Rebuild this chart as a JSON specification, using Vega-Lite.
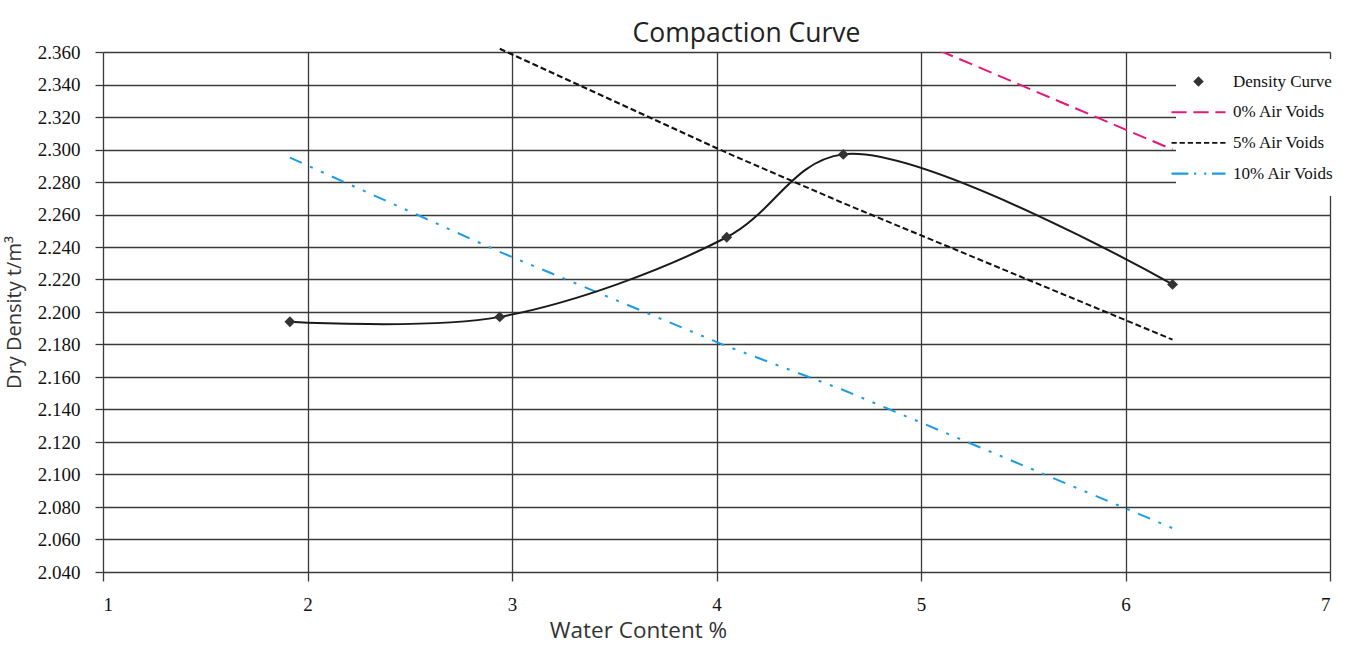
{
  "$schema": "https://vega.github.io/schema/vega-lite/v6.json",
  "width": 1227,
  "height": 520,
  "autosize": {"type": "none"},
  "padding": {"left": 103, "top": 52, "right": 26, "bottom": 76},
  "background": "white",
  "title": {"text": "Compaction Curve", "font": "Open Sans", "fontSize": 26.5, "fontWeight": "normal", "color": "#222222", "offset": -4, "dx": 30},
  "datasets": {
    "density": [
      {"series": "Density Curve", "w": 1.914, "rho": 2.194},
      {"series": "Density Curve", "w": 2.94, "rho": 2.197},
      {"series": "Density Curve", "w": 4.05, "rho": 2.246},
      {"series": "Density Curve", "w": 4.62, "rho": 2.297},
      {"series": "Density Curve", "w": 6.23, "rho": 2.217}
    ],
    "voids": [
      {"series": "0% Air Voids", "w": 4.62, "rho": 2.386},
      {"series": "0% Air Voids", "w": 6.23, "rho": 2.300},
      {"series": "5% Air Voids", "w": 2.94, "rho": 2.362},
      {"series": "5% Air Voids", "w": 4.05, "rho": 2.298},
      {"series": "5% Air Voids", "w": 4.62, "rho": 2.267},
      {"series": "5% Air Voids", "w": 6.23, "rho": 2.183},
      {"series": "10% Air Voids", "w": 1.914, "rho": 2.295},
      {"series": "10% Air Voids", "w": 2.94, "rho": 2.237},
      {"series": "10% Air Voids", "w": 4.05, "rho": 2.179},
      {"series": "10% Air Voids", "w": 4.62, "rho": 2.152},
      {"series": "10% Air Voids", "w": 6.23, "rho": 2.067}
    ]
  },
  "encoding": {
    "x": {
      "field": "w", "type": "quantitative",
      "scale": {"domain": [1, 7], "nice": false, "zero": false},
      "axis": {"values": [1, 2, 3, 4, 5, 6, 7], "title": "Water Content %", "grid": true, "domain": false,
        "tickSize": 9, "labelPadding": 14, "titleFontSize": 22.5, "titlePadding": 5, "titleX": 535}
    },
    "y": {
      "field": "rho", "type": "quantitative",
      "scale": {"domain": [2.04, 2.36], "nice": false, "zero": false},
      "axis": {"values": [2.04, 2.06, 2.08, 2.1, 2.12, 2.14, 2.16, 2.18, 2.2, 2.22, 2.24, 2.26, 2.28, 2.3, 2.32, 2.34, 2.36],
        "format": ".3f", "title": "Dry Density t/m³", "grid": true, "domain": false,
        "tickSize": 8, "labelPadding": 15, "titleFontSize": 20, "titleX": -79, "titleY": 260}
    }
  },
  "layer": [
    {
      "data": {"name": "voids"},
      "transform": [{"filter": {"field": "series", "equal": "0% Air Voids"}}],
      "mark": {"type": "line", "color": "#e5177b", "strokeWidth": 2, "strokeDash": [14, 7], "clip": true}
    },
    {
      "data": {"name": "voids"},
      "transform": [{"filter": {"field": "series", "equal": "5% Air Voids"}}],
      "mark": {"type": "line", "color": "#111111", "strokeWidth": 2, "strokeDash": [6, 3]}
    },
    {
      "data": {"name": "voids"},
      "transform": [{"filter": {"field": "series", "equal": "10% Air Voids"}}],
      "mark": {"type": "line", "color": "#1c9ce3", "strokeWidth": 2, "strokeDash": [13, 9, 3, 9, 3, 9]}
    },
    {
      "data": {"name": "density"},
      "mark": {"type": "line", "color": "#1a1a1a", "strokeWidth": 2, "interpolate": "catmull-rom"}
    },
    {
      "data": {"name": "density"},
      "mark": {"type": "point", "filled": true, "size": 120, "opacity": 1, "strokeWidth": 0},
      "encoding": {
        "color": {
          "field": "series", "type": "nominal",
          "scale": {"domain": ["Density Curve", "0% Air Voids", "5% Air Voids", "10% Air Voids"],
            "range": ["#333333", "#e5177b", "#111111", "#1c9ce3"]},
          "legend": {"title": null, "orient": "none", "legendX": 1073, "legendY": 7, "fillColor": "white", "padding": 14,
            "labelFont": "Liberation Serif", "labelFontSize": 17, "labelColor": "#111111", "labelOffset": 26,
            "rowPadding": 12.7, "symbolSize": 110, "symbolStrokeWidth": 0, "symbolOpacity": 1}
        },
        "shape": {
          "field": "series", "type": "nominal",
          "scale": {"domain": ["Density Curve", "0% Air Voids", "5% Air Voids", "10% Air Voids"],
            "range": [
              "M0,-1L1,0L0,1L-1,0Z",
              "M-5.15,-0.2H-2.27V0.2H-5.15Z M-0.98,-0.2H1.93V0.2H-0.98Z M3.22,-0.2H5.15V0.2H3.22Z",
              "M-5.15,-0.18H-4.15V0.18H-5.15Z M-3.6,-0.18H-2.6V0.18H-3.6Z M-2.05,-0.18H-1.05V0.18H-2.05Z M-0.5,-0.18H0.5V0.18H-0.5Z M1.05,-0.18H2.05V0.18H1.05Z M2.6,-0.18H3.6V0.18H2.6Z M4.15,-0.18H5.15V0.18H4.15Z",
              "M-5.15,-0.2H-1.93V0.2H-5.15Z M-0.84,-0.2H-0.44V0.2H-0.84Z M1.09,-0.2H1.49V0.2H1.09Z M2.58,-0.2H5.15V0.2H2.58Z"
            ]},
          "legend": {"title": null, "orient": "none", "legendX": 1073, "legendY": 7, "fillColor": "white", "padding": 14,
            "labelFont": "Liberation Serif", "labelFontSize": 17, "labelColor": "#111111", "labelOffset": 26,
            "rowPadding": 12.7, "symbolSize": 110, "symbolStrokeWidth": 0, "symbolOpacity": 1}
        }
      }
    }
  ],
  "config": {
    "view": {"stroke": null},
    "axis": {"gridColor": "#3a3a3a", "gridWidth": 1.3, "gridOpacity": 1, "tickColor": "#3a3a3a", "tickWidth": 1.3,
      "labelFont": "Liberation Serif", "labelFontSize": 19, "labelColor": "#111111",
      "titleFont": "Open Sans", "titleFontWeight": "normal", "titleColor": "#333333"}
  }
}
